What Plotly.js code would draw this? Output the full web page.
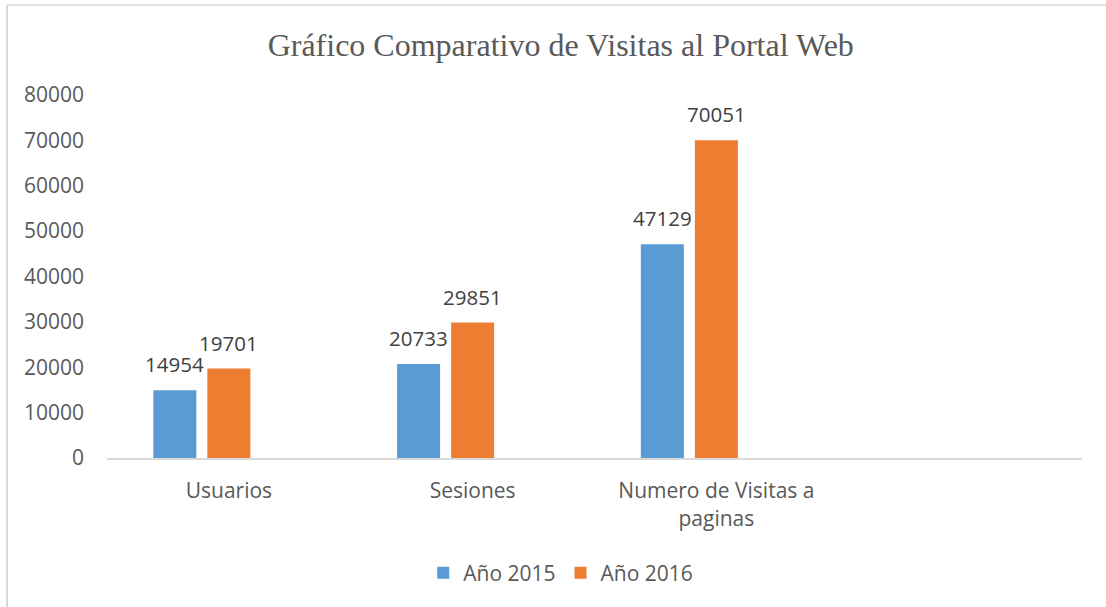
<!DOCTYPE html>
<html>
<head>
<meta charset="utf-8">
<script src="https://cdn.plot.ly/plotly-3.0.1.min.js"></script>
<style>html,body{margin:0;padding:0;background:#fff;}#chart{width:1106px;height:607px;}</style>
</head>
<body>
<div id="chart"></div>
<script>
const categories = ["Usuarios", "Sesiones", "Numero de Visitas a<br>paginas", " "];
const seriesNames = ["Año 2015", "Año 2016", ""];
const values2015 = [14954, 20733, 47129, null];
const values2016 = [19701, 29851, 70051, null];
const valuesEmpty = [null, null, null, null];
const yTicks = [0, 10000, 20000, 30000, 40000, 50000, 60000, 70000, 80000];

const colors = ["#5B9BD5", "#ED7D31", "#A5A5A5"];
const allSeries = [values2015, values2016, valuesEmpty];

const traces = allSeries.map((vals, i) => ({
  type: "bar",
  name: seriesNames[i],
  x: categories,
  y: vals,
  marker: {color: colors[i]},
  showlegend: i < 2,
  hoverinfo: "x+y+name"
}));

const annotations = [];
allSeries.forEach((vals, i) => {
  vals.forEach((v, j) => {
    if (v === null) return;
    annotations.push({
      x: categories[j], y: v, xref: "x", yref: "y",
      text: String(v), showarrow: false,
      xanchor: "center", yanchor: "bottom",
      xshift: (i - 1) * 54, yshift: 10,
      font: {family: "Open Sans", size: 20.5, color: "#404040"}
    });
  });
});

const layout = {
  width: 1106, height: 607,
  margin: {l: 107, r: 24, t: 95, b: 149},
  paper_bgcolor: "#fff", plot_bgcolor: "#fff",
  font: {family: "Open Sans", size: 21, color: "#595959"},
  title: {
    text: "Gráfico Comparativo de Visitas al Portal Web",
    font: {family: "Liberation Serif", size: 32, color: "#595959"},
    x: 0.507, xref: "container", xanchor: "center",
    y: 1 - 45 / 607, yref: "container", yanchor: "middle"
  },
  barmode: "group",
  bargap: 0.335,
  bargroupgap: 0.204,
  xaxis: {
    type: "category",
    showgrid: false, zeroline: false,
    showline: true, linecolor: "#d9d9d9", linewidth: 2,
    ticks: "", ticklabelstandoff: 13,
    tickfont: {family: "Open Sans", size: 21, color: "#595959"}
  },
  yaxis: {
    range: [0, 80000],
    tickvals: yTicks,
    ticktext: yTicks.map(String),
    showgrid: false, zeroline: false, showline: false,
    ticks: "", ticklabelstandoff: 22,
    tickfont: {family: "Open Sans", size: 21, color: "#595959"}
  },
  legend: {
    orientation: "h",
    x: 0.507, xref: "container", xanchor: "center",
    y: 1 - 573 / 607, yref: "container", yanchor: "middle",
    font: {family: "Open Sans", size: 21, color: "#595959"},
    itemwidth: 30, tracegroupgap: 0
  },
  annotations: annotations,
  shapes: [
    {type: "line", xref: "paper", yref: "paper",
     x0: (7 - 107) / 975, x1: (7 - 107) / 975, y0: (458 - 5) / 363, y1: (458 - 607) / 363,
     line: {color: "#d9d9d9", width: 2}},
    {type: "line", xref: "paper", yref: "paper",
     x0: (7 - 107) / 975, x1: (1106 - 107) / 975, y0: (458 - 5) / 363, y1: (458 - 5) / 363,
     line: {color: "#d9d9d9", width: 1.5}}
  ]
};

Plotly.newPlot("chart", traces, layout, {displayModeBar: false, staticPlot: true});
</script>
</body>
</html>
